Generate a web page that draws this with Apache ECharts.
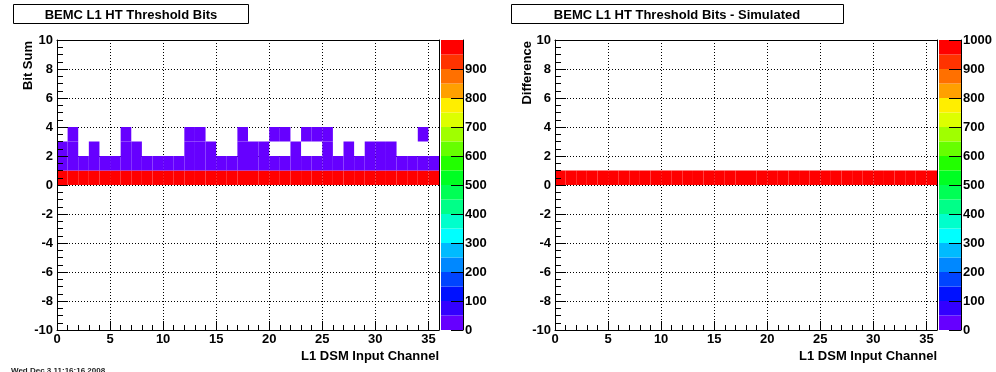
<!DOCTYPE html>
<html><head><meta charset="utf-8">
<script src="https://cdn.jsdelivr.net/npm/echarts@6/dist/echarts.min.js"></script>
<style>html,body{margin:0;padding:0;background:#fff;overflow:hidden}#c{width:996px;height:372px}</style>
</head><body><div id="c"></div>
<script>
// ---------- data ----------
const channels = [0,1,2,3,4,5,6,7,8,9,10,11,12,13,14,15,16,17,18,19,20,21,22,23,24,25,26,27,28,29,30,31,32,33,34,35];
const bitSumRows = [0, 1, 2, 3];
// counts per channel for each Bit Sum row (0 = empty bin)
const bitSum0 = [986,988,991,987,990,989,985,987,990,991,989,990,984,986,988,990,991,986,987,988,987,988,989,986,987,985,990,988,991,988,987,989,990,991,988,990];
const bitSum1 = [12,10,9,12,10,11,13,12,10,9,11,10,14,12,11,10,9,12,12,11,11,10,10,12,11,13,10,11,9,10,12,10,10,9,11,10];
const bitSum2 = [1,1,0,1,0,0,1,1,0,0,0,0,1,1,1,0,0,1,1,1,0,0,1,0,0,1,0,1,0,1,1,1,0,0,0,0];
const bitSum3 = [0,1,0,0,0,0,1,0,0,0,0,0,1,1,0,0,0,1,0,0,1,1,0,1,1,1,0,0,0,0,0,0,0,0,1,0];
const diffRows = [0];
const diff0 = [1000,1000,1000,1000,1000,1000,1000,1000,1000,1000,1000,1000,1000,1000,1000,1000,1000,1000,1000,1000,1000,1000,1000,1000,1000,1000,1000,1000,1000,1000,1000,1000,1000,1000,1000,1000];
// colour scale
const zMax = 1000;
const bandLo = [0,50,100,150,200,250,300,350,400,450,500,550,600,650,700,750,800,850,900,950];
const bandHi = [50,100,150,200,250,300,350,400,450,500,550,600,650,700,750,800,850,900,950,1000];
const palette = ['#6600ff','#3300ff','#0011ff','#0044ff','#0088ff','#00bbff','#00ffff','#00ffcc','#00ff88','#00ff55',
                 '#00ff22','#22ff00','#66ff00','#a0ff00','#ddff00','#ffee00','#ffa000','#ff7000','#ff3300','#ff0000'];

// ---------- helpers ----------
const FONT = '"Liberation Sans", Arial, Helvetica, sans-serif';
const lbl = {color:'#000', fontFamily:FONT, fontWeight:'bold', fontSize:13, formatter:(v) => String(v)};
function colorFor(v){ let i = Math.floor(v / (zMax / palette.length)); if (i > palette.length-1) i = palette.length-1; return palette[i]; }
function cellsFrom(rows, arrays){
  const out = [];
  rows.forEach((r, k) => arrays[k].forEach((v, i) => { if (v > 0) out.push([channels[i], r, v]); }));
  return out;
}
const leftCells = cellsFrom(bitSumRows, [bitSum0, bitSum1, bitSum2, bitSum3]);
const rightCells = cellsFrom(diffRows, [diff0]);
const bands = bandLo.map((lo, i) => [lo, bandHi[i], i]);

const blk = {color:'#000', width:1};
function xAxesFor(g){
  return [
    {gridIndex:g, type:'value', min:0, max:36, interval:5, axisLine:{show:false, onZero:false}, axisTick:{show:false}, axisLabel:{show:false},
     splitLine:{show:true, lineStyle:{color:'#000', width:1, type:[1,2]}}, z:0},
    {gridIndex:g, type:'value', min:0, max:36, interval:5, position:'bottom', axisLine:{show:true, onZero:false, lineStyle:blk},
     axisTick:{show:true, inside:true, length:9, lineStyle:blk}, axisLabel:Object.assign({show:true, showMaxLabel:false, margin:3}, lbl),
     splitLine:{show:false}, z:10},
    {gridIndex:g, type:'value', min:0, max:36, interval:1, position:'bottom', axisLine:{show:false, onZero:false},
     axisTick:{show:true, inside:true, length:5, lineStyle:blk}, axisLabel:{show:false}, splitLine:{show:false}, z:10},
    {gridIndex:g, type:'value', min:0, max:36, position:'top', axisLine:{show:true, onZero:false, lineStyle:blk},
     axisTick:{show:false}, axisLabel:{show:false}, splitLine:{show:false}, z:10}
  ];
}
function yAxesFor(g){
  return [
    {gridIndex:g, type:'value', min:-10, max:10, interval:2, axisLine:{show:false, onZero:false}, axisTick:{show:false}, axisLabel:{show:false},
     splitLine:{show:true, lineStyle:{color:'#000', width:1, type:[1,2]}}, z:0},
    {gridIndex:g, type:'value', min:-10, max:10, interval:2, position:'left', axisLine:{show:true, onZero:false, lineStyle:blk},
     axisTick:{show:true, inside:true, length:11, lineStyle:blk}, axisLabel:Object.assign({show:true, margin:4}, lbl),
     splitLine:{show:false}, z:10},
    {gridIndex:g, type:'value', min:-10, max:10, interval:0.5, position:'left', axisLine:{show:false, onZero:false},
     axisTick:{show:true, inside:true, length:6, lineStyle:blk}, axisLabel:{show:false}, splitLine:{show:false}, z:10},
    {gridIndex:g, type:'value', min:-10, max:10, position:'right', axisLine:{show:true, onZero:false, lineStyle:blk},
     axisTick:{show:false}, axisLabel:{show:false}, splitLine:{show:false}, z:10}
  ];
}
function cbX(g){ return {gridIndex:g, type:'value', min:0, max:1, show:false, axisLine:{onZero:false}}; }
function cbY(g, showMax){
  return {gridIndex:g, type:'value', min:0, max:zMax, interval:100, position:'right',
    axisLine:{show:true, onZero:false, lineStyle:blk}, axisTick:{show:true, inside:true, length:12, lineStyle:blk},
    axisLabel:Object.assign({show:true, margin:2, showMaxLabel:showMax, showMinLabel:true}, lbl), splitLine:{show:false}, z:10};
}
function cellRender(params, api){
  const x = api.value(0), y = api.value(1), v = api.value(2);
  const p0 = api.coord([x, y + 1]), p1 = api.coord([x + 1, y]);
  return {type:'rect', shape:{x:p0[0], y:p0[1], width:p1[0]-p0[0], height:p1[1]-p0[1]}, style:{fill:colorFor(v)}};
}
function bandRender(params, api){
  const lo = api.value(0), hi = api.value(1), i = api.value(2);
  const p0 = api.coord([0, hi]), p1 = api.coord([1, lo]);
  return {type:'rect', shape:{x:p0[0], y:p0[1], width:p1[0]-p0[0], height:p1[1]-p0[1]}, style:{fill:palette[i]}};
}

const xAxis = [].concat(xAxesFor(0), xAxesFor(1), [cbX(2), cbX(3)]);
const yAxis = [].concat(yAxesFor(0), yAxesFor(1), [cbY(2, false), cbY(3, true)]);

const chart = echarts.init(document.getElementById('c'), null, {renderer:'canvas'});
chart.setOption({
  backgroundColor:'#fff',
  animation:false,
  grid:[
    {left:57, top:40, width:382, height:290},
    {left:555, top:40, width:382, height:290},
    {left:441, top:40, width:22, height:290},
    {left:939, top:40, width:22, height:290}
  ],
  xAxis: xAxis,
  yAxis: yAxis,
  series:[
    {type:'custom', name:'Bit Sum', xAxisIndex:0, yAxisIndex:0, data:leftCells, renderItem:cellRender, clip:true, z:2},
    {type:'custom', name:'Difference', xAxisIndex:4, yAxisIndex:4, data:rightCells, renderItem:cellRender, clip:true, z:2},
    {type:'custom', name:'scaleL', xAxisIndex:8, yAxisIndex:8, data:bands, renderItem:bandRender, z:2},
    {type:'custom', name:'scaleR', xAxisIndex:9, yAxisIndex:9, data:bands, renderItem:bandRender, z:2}
  ],
  graphic:[
    {type:'rect', shape:{x:13.5, y:4.5, width:235, height:19}, style:{fill:'#fff', stroke:'#000', lineWidth:1}},
    {type:'text', x:131, y:15, style:{text:'BEMC L1 HT Threshold Bits', textAlign:'center', textVerticalAlign:'middle', font:'bold 13px '+FONT, fill:'#000'}},
    {type:'rect', shape:{x:511.5, y:4.5, width:332, height:19}, style:{fill:'#fff', stroke:'#000', lineWidth:1}},
    {type:'text', x:677, y:15, style:{text:'BEMC L1 HT Threshold Bits - Simulated', textAlign:'center', textVerticalAlign:'middle', font:'bold 13px '+FONT, fill:'#000'}},
    {type:'text', x:28, y:41, rotation:Math.PI/2, style:{text:'Bit Sum', textAlign:'right', textVerticalAlign:'middle', font:'bold 13px '+FONT, fill:'#000'}},
    {type:'text', x:527, y:41, rotation:Math.PI/2, style:{text:'Difference', textAlign:'right', textVerticalAlign:'middle', font:'bold 13px '+FONT, fill:'#000'}},
    {type:'text', x:439, y:356, style:{text:'L1 DSM Input Channel', textAlign:'right', textVerticalAlign:'middle', font:'bold 13px '+FONT, fill:'#000'}},
    {type:'text', x:937, y:356, style:{text:'L1 DSM Input Channel', textAlign:'right', textVerticalAlign:'middle', font:'bold 13px '+FONT, fill:'#000'}},
    {type:'text', x:11, y:367, style:{text:'Wed Dec 3 11:16:16 2008', textAlign:'left', textVerticalAlign:'top', font:'bold 8px '+FONT, fill:'#222'}}
  ]
});
</script></body></html>
